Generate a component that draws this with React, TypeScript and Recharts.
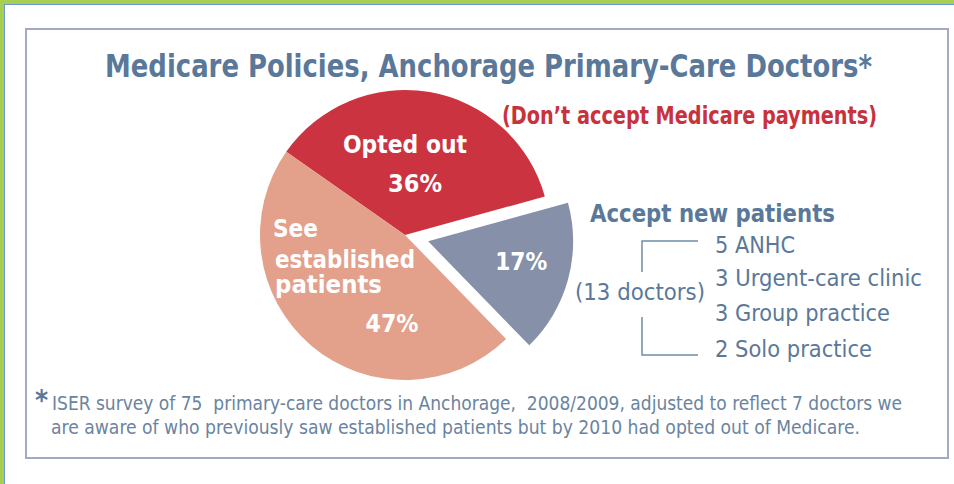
import React from 'react';
import { PieChart, Pie, Cell } from 'recharts';

const sliceNames = ['Opted out', 'See established patients', 'Accept new patients'];
const sliceValues = [36, 47, 17];
const sliceLabels = [['Opted out', '36%'], ['See', 'established', 'patients', '47%'], ['17%']];
const sliceColors = ['#cc3340', '#e3a08b', '#8690a9'];
const explodedIndex = 2;

const titleText = 'Medicare Policies, Anchorage Primary-Care Doctors*';
const subtitleText = '(Don\u2019t accept Medicare payments)';
const legendTitle = 'Accept new patients';
const breakdownCounts = [5, 3, 3, 2];
const breakdownNames = ['ANHC', 'Urgent-care clinic', 'Group practice', 'Solo practice'];
const totalLabel = '(13 doctors)';
const footnoteLines = [
  'ISER survey of 75  primary-care doctors in Anchorage,  2008/2009, adjusted to reflect 7 doctors we',
  'are aware of who previously saw established patients but by 2010 had opted out of Medicare.',
];

const data = sliceNames.map((name, i) => ({ name, value: sliceValues[i] }));

const W = 954;
const H = 484;
const CX = 405;
const CY = 235;
const R = 145;
const START = 15.4;
const EXPLODE = 24;

// exploded slice centre, computed from its mid angle
const total = sliceValues.reduce((a, b) => a + b, 0);
const before = sliceValues.slice(0, explodedIndex).reduce((a, b) => a + b, 0);
const midAngle = START + ((before + sliceValues[explodedIndex] / 2) / total) * 360;
const ECX = CX + EXPLODE * Math.cos((midAngle * Math.PI) / 180);
const ECY = CY - EXPLODE * Math.sin((midAngle * Math.PI) / 180);

const FONT = "'Liberation Sans Narrow', 'DejaVu Sans Condensed', 'DejaVu Sans', sans-serif";
const textBase = { fontFamily: FONT, fontStretch: 'condensed' as const };

// label layout (offsets from the slice centre)
const labelLayout: { dx: number; dy: number; w: number; anchor: 'start' | 'middle' }[][] = [
  [
    { dx: 0, dy: -82, w: 124, anchor: 'middle' },
    { dx: 10, dy: -43, w: 54, anchor: 'middle' },
  ],
  [
    { dx: -132, dy: 2, w: 45, anchor: 'start' },
    { dx: -130, dy: 33, w: 140, anchor: 'start' },
    { dx: -130, dy: 58, w: 107, anchor: 'start' },
    { dx: -13, dy: 97, w: 53, anchor: 'middle' },
  ],
  [{ dx: 93, dy: 29, w: 52, anchor: 'middle' }],
];

const makeLabel = (show: (i: number) => boolean) => (props: any) => {
  const { cx, cy, index } = props;
  if (!show(index)) return null;
  const lines = sliceLabels[index];
  return (
    <g key={`lbl-${index}`}>
      {lines.map((t, j) => {
        const l = labelLayout[index][j];
        return (
          <text
            key={j}
            x={cx + l.dx}
            y={cy + l.dy}
            textAnchor={l.anchor}
            fill="#ffffff"
            style={textBase}
            fontWeight={700}
            fontSize={25}
            textLength={l.w}
            lengthAdjust="spacingAndGlyphs"
          >
            {t}
          </text>
        );
      })}
    </g>
  );
};

const TXT = '#5a7899';

export default function App() {
  return (
    <div style={{ position: 'absolute', left: 0, top: 0, width: W, height: H, background: '#a7cf52', overflow: 'hidden' }}>
      <div
        style={{
          position: 'absolute',
          left: 4,
          top: 4,
          width: W,
          height: H,
          background: '#ffffff',
          borderLeft: '1.5px solid #6a9ad8',
          borderTop: '1.5px solid #6a9ad8',
        }}
      />
      <div
        style={{
          position: 'absolute',
          left: 25,
          top: 28,
          width: 924,
          height: 431,
          boxSizing: 'border-box',
          border: '2px solid #a2a9c3',
        }}
      />
      <div style={{ position: 'absolute', left: 0, top: 0 }}>
        <PieChart width={W} height={H} margin={{ top: 0, right: 0, bottom: 0, left: 0 }}>
          <Pie
            data={data}
            dataKey="value"
            nameKey="name"
            cx={CX}
            cy={CY}
            outerRadius={R}
            startAngle={START}
            endAngle={START + 360}
            stroke="none"
            isAnimationActive={false}
            labelLine={false}
            label={makeLabel((i) => i !== explodedIndex)}
          >
            {data.map((d, i) => (
              <Cell key={d.name} fill={i === explodedIndex ? 'transparent' : sliceColors[i]} />
            ))}
          </Pie>
          <Pie
            data={data}
            dataKey="value"
            nameKey="name"
            cx={ECX}
            cy={ECY}
            outerRadius={R}
            startAngle={START}
            endAngle={START + 360}
            stroke="none"
            isAnimationActive={false}
            labelLine={false}
            label={makeLabel((i) => i === explodedIndex)}
          >
            {data.map((d, i) => (
              <Cell key={d.name} fill={i === explodedIndex ? sliceColors[i] : 'transparent'} />
            ))}
          </Pie>
        </PieChart>
      </div>
      <svg width={W} height={H} style={{ position: 'absolute', left: 0, top: 0, pointerEvents: 'none' }}>
        <text x={105} y={77} fill={TXT} style={textBase} fontWeight={700} fontSize={32} textLength={767} lengthAdjust="spacingAndGlyphs">
          {titleText}
        </text>
        <text x={502} y={124} fill="#c8323c" style={textBase} fontWeight={700} fontSize={25} textLength={375} lengthAdjust="spacingAndGlyphs">
          {subtitleText}
        </text>
        <text x={590} y={222} fill={TXT} style={textBase} fontWeight={700} fontSize={25} textLength={245} lengthAdjust="spacingAndGlyphs">
          {legendTitle}
        </text>
        {breakdownNames.map((n, i) => {
          const ys = [253, 286, 321, 357];
          const ws = [80, 207, 175, 157];
          return (
            <text key={n} x={715} y={ys[i]} fill={TXT} style={textBase} fontSize={23} textLength={ws[i]} lengthAdjust="spacingAndGlyphs">
              {`${breakdownCounts[i]} ${n}`}
            </text>
          );
        })}
        <text x={575} y={300} fill={TXT} style={textBase} fontSize={23} textLength={130} lengthAdjust="spacingAndGlyphs">
          {totalLabel}
        </text>
        <polyline points="698,241 642,241 642,272" fill="none" stroke="#6f8ca8" strokeWidth={1.5} />
        <polyline points="642,317 642,355 698,355" fill="none" stroke="#6f8ca8" strokeWidth={1.5} />
        <text x={35} y={410} fill={TXT} style={textBase} fontWeight={700} fontSize={28}>
          *
        </text>
        <text x={52} y={410} fill="#6a84a0" style={{ ...textBase, whiteSpace: 'pre' }} fontSize={20} textLength={850} lengthAdjust="spacingAndGlyphs">
          {footnoteLines[0]}
        </text>
        <text x={51} y={434} fill="#6a84a0" style={{ ...textBase, whiteSpace: 'pre' }} fontSize={20} textLength={809} lengthAdjust="spacingAndGlyphs">
          {footnoteLines[1]}
        </text>
      </svg>
    </div>
  );
}
